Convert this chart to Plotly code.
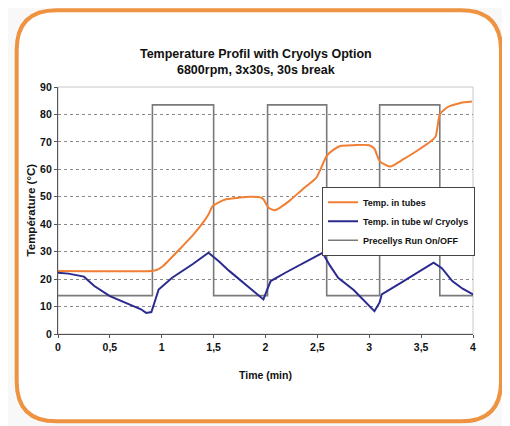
import plotly.graph_objects as go

# ---- data ----
tube_t = [0, 0.9, 0.95, 1.01, 1.17, 1.3, 1.41, 1.45, 1.49, 1.55, 1.62, 1.75, 1.85, 1.95, 1.98,
          2.03, 2.09, 2.15, 2.23, 2.35, 2.49, 2.53, 2.59, 2.65, 2.72, 2.85, 3.00, 3.05, 3.1,
          3.2, 3.33, 3.45, 3.6, 3.64, 3.68, 3.73, 3.78, 3.88, 3.99]
tube_v = [23, 23, 23.3, 24.7, 30.8, 36, 41.2, 43.5, 46.6, 48, 49.1, 49.7, 50, 49.8, 49.1,
          46, 45.1, 46.3, 48.5, 52.5, 57, 60, 64.9, 67, 68.5, 68.8, 68.8, 67.5, 63,
          61, 63.7, 66.5, 70.4, 72, 80, 82, 83.1, 84.2, 84.7]

cryo_t = [0, 0.1, 0.25, 0.35, 0.5, 0.65, 0.8, 0.85, 0.9, 0.93, 0.97, 1.1, 1.3, 1.45, 1.55,
          1.65, 1.75, 1.85, 1.98, 2.02, 2.05, 2.2, 2.4, 2.55, 2.62, 2.7, 2.85, 3.05, 3.1,
          3.12, 3.3, 3.5, 3.62, 3.7, 3.8, 3.9, 4.0]
cryo_v = [22.3, 22, 20.9, 17.5, 13.8, 11.5, 9, 7.7, 8, 11.5, 16.2, 20.5, 25.5, 29.6, 26.5,
          23, 19.9, 16.9, 12.6, 16.5, 19.3, 22.5, 26.5, 29.6, 25, 20.5, 16, 8.3, 11.5,
          14.4, 18.5, 23, 26.0, 24, 19.3, 16.5, 14.4]

run_t = [0, 0.91, 1.5, 2.02, 2.59, 3.10, 3.68, 4.0]
run_v = [14, 83.5, 14, 83.5, 14, 83.5, 14, 14]

x_ticks = [0, 0.5, 1, 1.5, 2, 2.5, 3, 3.5, 4]
x_labels = ["0", "0,5", "1", "1,5", "2", "2,5", "3", "3,5", "4"]
y_ticks = [0, 10, 20, 30, 40, 50, 60, 70, 80, 90]

names = ["Temp. in tubes", "Temp. in tube w/ Cryolys", "Precellys Run On/OFF"]

# ---- layout geometry (pixels, window coords; page body has an 8px margin) ----
OFF = 8
W, H = 510 - OFF, 426 - OFF
PLOT_X0, PLOT_X1, PLOT_Y0, PLOT_Y1 = 58.3, 473, 87, 334.5   # window coords of plot area
L = PLOT_X0 - OFF
R = W - (PLOT_X1 - OFF)
T = PLOT_Y0 - OFF
B = H - (PLOT_Y1 - OFF)
PW, PH = W - L - R, H - T - B


def px(x):
    return (x - PLOT_X0) / PW


def py(y):
    return (PLOT_Y1 - y) / PH


def rounded_rect(x0, y0, x1, y1, r):
    X0, X1 = px(x0), px(x1)
    Y0, Y1 = py(y0), py(y1)
    rx, ry = r / PW, r / PH
    return (f"M {X0 + rx},{Y0} L {X1 - rx},{Y0} Q {X1},{Y0} {X1},{Y0 - ry} "
            f"L {X1},{Y1 + ry} Q {X1},{Y1} {X1 - rx},{Y1} "
            f"L {X0 + rx},{Y1} Q {X0},{Y1} {X0},{Y1 + ry} "
            f"L {X0},{Y0 - ry} Q {X0},{Y0} {X0 + rx},{Y0} Z")


font_family = "Liberation Sans, Arial, sans-serif"

fig = go.Figure()
fig.add_trace(go.Scatter(x=run_t, y=run_v, mode="lines", line_shape="hv",
                         line=dict(color="#7a7a7a", width=1.6), name=names[2],
                         legendrank=3))
fig.add_trace(go.Scatter(x=tube_t, y=tube_v, mode="lines", line_shape="spline",
                         line=dict(color="#f07f34", width=2, smoothing=0.6), name=names[0],
                         legendrank=1))
fig.add_trace(go.Scatter(x=cryo_t, y=cryo_v, mode="lines",
                         line=dict(color="#2b2b8f", width=2), name=names[1],
                         legendrank=2))

shapes = [
    # outer rounded frame
    dict(type="path", xref="paper", yref="paper", path=rounded_rect(17, 10, 501, 422, 40),
         line=dict(color="#ee9342", width=4), fillcolor="white", layer="below"),
    # plot area border (light)
    dict(type="rect", xref="paper", yref="paper", x0=0, y0=0, x1=1, y1=1,
         line=dict(color="#c8c8c8", width=1), layer="below"),
]

annotations = [
    dict(text="<b>Température (°C)</b>", xref="paper", yref="paper", x=px(31), y=py(210),
         textangle=-90, showarrow=False, font=dict(size=11.5, color="#111", family=font_family),
         xanchor="center", yanchor="middle"),
    dict(text="<b>Time (min)</b>", xref="paper", yref="paper", x=px(266), y=py(376),
         showarrow=False, font=dict(size=10.5, color="#111", family=font_family),
         xanchor="center", yanchor="middle"),
]

fig.update_layout(
    width=W, height=H,
    margin=dict(l=L, r=R, t=T, b=B),
    paper_bgcolor="#f8f8f8",
    plot_bgcolor="white",
    title=dict(text="<b>Temperature Profil with Cryolys Option<br>6800rpm, 3x30s, 30s break</b>",
               x=px(256), xref="paper", xanchor="center", y=1 - (58 - OFF) / H, yref="container",
               yanchor="middle", font=dict(size=12.5, color="#111", family=font_family)),
    xaxis=dict(range=[0, 4], tickvals=x_ticks, ticktext=x_labels, showgrid=False,
               showline=True, linecolor="#555", linewidth=1.2, ticks="outside", ticklen=3,
               tickcolor="#555", zeroline=False,
               tickfont=dict(size=10.5, color="#111", family=font_family, weight="bold")),
    yaxis=dict(range=[0, 90], tickvals=y_ticks, showgrid=True, gridcolor="#8a8a8a",
               griddash="dot", gridwidth=1, showline=True, linecolor="#555", linewidth=1.2,
               ticks="outside", ticklen=3, tickcolor="#555", zeroline=False,
               tickfont=dict(size=10.5, color="#111", family=font_family, weight="bold")),
    legend=dict(x=px(475), xanchor="right", y=py(187), yanchor="top", bgcolor="white",
                bordercolor="#444", borderwidth=1, tracegroupgap=0, itemwidth=30,
                font=dict(size=9, color="#111", family=font_family, weight="bold")),
    shapes=shapes,
    annotations=annotations,
    showlegend=True,
)

fig.write_html("out.html")
